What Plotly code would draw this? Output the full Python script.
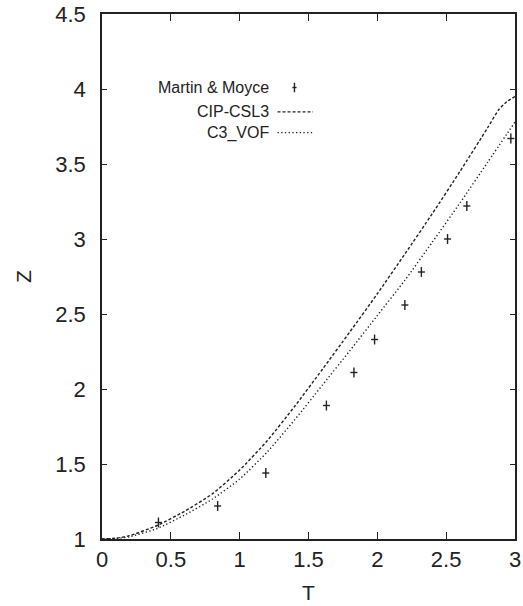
import plotly.graph_objects as go

# Martin & Moyce experimental data
mm_T = [0.41, 0.84, 1.19, 1.63, 1.83, 1.98, 2.20, 2.32, 2.51, 2.65, 2.97]
mm_Z = [1.11, 1.22, 1.44, 1.89, 2.11, 2.33, 2.56, 2.78, 3.00, 3.22, 3.67]
mm_err = [0.033] * len(mm_T)

# CIP-CSL3 (dashed)
cip_T = [0, 0.1, 0.2, 0.4, 0.6, 0.8, 1.0, 1.2, 1.4, 1.6,
         1.8, 2.0, 2.2, 2.4, 2.6, 2.8, 2.88, 2.94, 3.0]
cip_Z = [1.0, 1.005, 1.022, 1.09, 1.185, 1.30, 1.46,
         1.655, 1.885, 2.13, 2.38, 2.635, 2.90, 3.17, 3.45, 3.74, 3.86, 3.915, 3.95]

# C3_VOF (dotted)
vof_T = [0, 0.1, 0.2, 0.4, 0.6, 0.8, 1.0, 1.2, 1.4, 1.6,
         1.8, 2.0, 2.2, 2.4, 2.6, 2.8, 3.0]
vof_Z = [1.0, 1.003, 1.015, 1.07, 1.16, 1.265, 1.40,
         1.58, 1.795, 2.025, 2.255, 2.49, 2.725, 2.98, 3.24, 3.51, 3.78]

legend_labels = ["Martin & Moyce", "CIP-CSL3", "C3_VOF"]

x_ticks = [0, 0.5, 1, 1.5, 2, 2.5, 3]
x_ticktext = ["0", "0.5", "1", "1.5", "2", "2.5", "3"]
y_ticks = [1, 1.5, 2, 2.5, 3, 3.5, 4, 4.5]
y_ticktext = ["1", "1.5", "2", "2.5", "3", "3.5", "4", "4.5"]

INK = "#222222"
FONT = "Liberation Sans, Arial, sans-serif"

fig = go.Figure()

fig.add_trace(go.Scatter(
    x=cip_T, y=cip_Z, mode="lines", name=legend_labels[1],
    line=dict(color=INK, width=1.4, dash="3px,2px", shape="spline", smoothing=0.6),
    showlegend=False,
))
fig.add_trace(go.Scatter(
    x=vof_T, y=vof_Z, mode="lines", name=legend_labels[2],
    line=dict(color=INK, width=1.4, dash="1.3px,2.4px", shape="spline", smoothing=0.6),
    showlegend=False,
))
fig.add_trace(go.Scatter(
    x=mm_T, y=mm_Z, mode="markers", name=legend_labels[0],
    marker=dict(symbol="line-ew", size=5, line=dict(color=INK, width=1.4)),
    error_y=dict(type="data", array=mm_err, visible=True, color=INK,
                 thickness=1.4, width=0),
    showlegend=False,
))

# gnuplot-style key: text right-aligned, sample to its right
ann_x = 0.408
rows_y = [0.86, 0.8135, 0.774]
for lab, yy in zip(legend_labels, rows_y):
    fig.add_annotation(xref="paper", yref="paper", x=ann_x, y=yy, text=lab,
                       showarrow=False, xanchor="right", yanchor="middle",
                       font=dict(family=FONT, size=16, color=INK))

s0, s1 = 0.425, 0.511
shapes = [
    dict(type="line", xref="paper", yref="paper", x0=s0, x1=s1, y0=rows_y[1], y1=rows_y[1],
         line=dict(color=INK, width=1.4, dash="3px,2px")),
    dict(type="line", xref="paper", yref="paper", x0=s0, x1=s1, y0=rows_y[2], y1=rows_y[2],
         line=dict(color=INK, width=1.4, dash="1.3px,2.4px")),
    dict(type="line", xref="paper", yref="paper", x0=0.466, x1=0.466,
         y0=rows_y[0] - 0.009, y1=rows_y[0] + 0.009, line=dict(color=INK, width=1.4)),
    dict(type="line", xref="paper", yref="paper", x0=0.466 - 0.005, x1=0.466 + 0.005,
         y0=rows_y[0], y1=rows_y[0], line=dict(color=INK, width=1.4)),
]

fig.update_layout(
    width=523, height=606,
    margin=dict(l=102, r=2, t=14, b=67),
    paper_bgcolor="white", plot_bgcolor="white",
    font=dict(family=FONT, size=22, color=INK),
    shapes=shapes,
    xaxis=dict(
        range=[0, 3], tickvals=x_ticks, ticktext=x_ticktext,
        ticks="inside", ticklen=7, tickwidth=1.2, tickcolor=INK,
        showline=True, linecolor=INK, linewidth=1.5, mirror="ticks",
        showgrid=False, zeroline=False,
        ticklabeloverflow="allow",
        title=dict(text="T", standoff=14, font=dict(size=21)),
        tickfont=dict(size=22),
    ),
    yaxis=dict(
        range=[1, 4.5], tickvals=y_ticks, ticktext=y_ticktext,
        ticks="inside", ticklen=5, tickwidth=1.2, tickcolor=INK,
        showline=True, linecolor=INK, linewidth=1.5, mirror="ticks",
        showgrid=False, zeroline=False,
        ticklabelstandoff=10,
        ticklabeloverflow="allow",
        title=dict(text="Z", standoff=18, font=dict(size=21)),
        tickfont=dict(size=22),
    ),
)

fig.write_html("out.html")
